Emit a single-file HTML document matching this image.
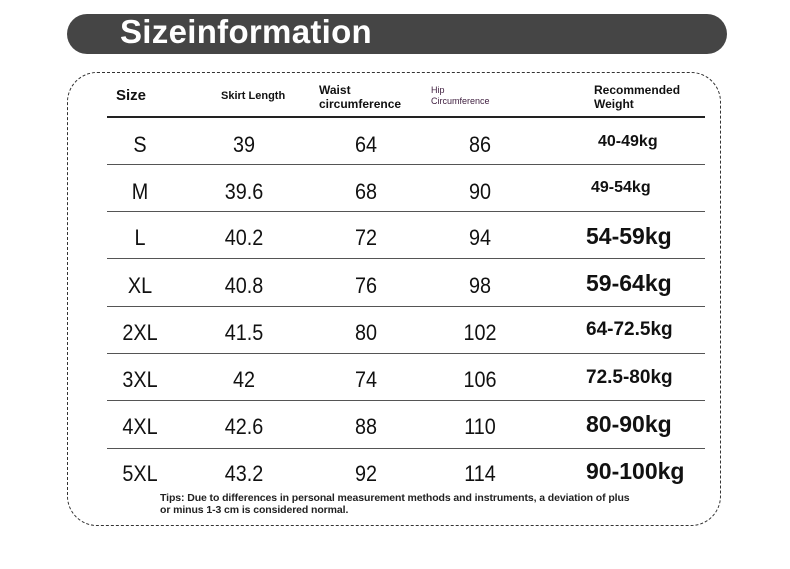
<!DOCTYPE html>
<html><head><meta charset="utf-8"><style>
body{margin:0;width:790px;height:569px;background:#fff;position:relative;overflow:hidden;font-family:"Liberation Sans",sans-serif;color:#111}
.a{position:absolute;white-space:nowrap}
.banner{left:67px;top:14px;width:660px;height:40px;border-radius:20px;background:#454545}
.title{left:120px;top:13px;font-size:33px;font-weight:bold;color:#fff;letter-spacing:0.3px}
.box{left:67px;top:72px;width:652px;height:452px;border:1.5px dashed #333;border-radius:30px}
.line{left:107px;width:598px;height:1px;background:#555}
.h{font-size:12px;font-weight:bold;line-height:14px}
.c{font-size:22px;transform:translateX(-50%) scaleX(0.9);}
.w{font-weight:bold;font-size:23px}
</style></head><body>
<div class="a banner"></div>
<div class="a title">Sizeinformation</div>
<div class="a box"></div>
<div class="a h" style="left:116px;top:89px;font-size:15px">Size</div>
<div class="a h" style="left:221px;top:89px;font-size:11px">Skirt Length</div>
<div class="a h" style="left:319px;top:83px">Waist<br>circumference</div>
<div class="a h" style="left:431px;top:85px;font-size:9px;line-height:11px;font-weight:normal;color:#402040">Hip<br>Circumference</div>
<div class="a h" style="left:594px;top:83px">Recommended<br>Weight</div>
<div class="a line" style="top:116px;height:2px;background:#222"></div>
<div class="a line" style="top:164px"></div>
<div class="a line" style="top:211px"></div>
<div class="a line" style="top:258px"></div>
<div class="a line" style="top:306px"></div>
<div class="a line" style="top:353px"></div>
<div class="a line" style="top:400px"></div>
<div class="a line" style="top:448px"></div>

<div class="a c" style="left:140px;top:132px">S</div><div class="a c" style="left:244px;top:132px">39</div><div class="a c" style="left:366px;top:132px">64</div><div class="a c" style="left:480px;top:132px">86</div><div class="a w" style="left:598px;top:133px;font-size:16px">40-49kg</div>
<div class="a c" style="left:140px;top:179px">M</div><div class="a c" style="left:244px;top:179px">39.6</div><div class="a c" style="left:366px;top:179px">68</div><div class="a c" style="left:480px;top:179px">90</div><div class="a w" style="left:591px;top:179px;font-size:16px">49-54kg</div>
<div class="a c" style="left:140px;top:225px">L</div><div class="a c" style="left:244px;top:225px">40.2</div><div class="a c" style="left:366px;top:225px">72</div><div class="a c" style="left:480px;top:225px">94</div><div class="a w" style="left:586px;top:223px">54-59kg</div>
<div class="a c" style="left:140px;top:273px">XL</div><div class="a c" style="left:244px;top:273px">40.8</div><div class="a c" style="left:366px;top:273px">76</div><div class="a c" style="left:480px;top:273px">98</div><div class="a w" style="left:586px;top:270px">59-64kg</div>
<div class="a c" style="left:140px;top:320px">2XL</div><div class="a c" style="left:244px;top:320px">41.5</div><div class="a c" style="left:366px;top:320px">80</div><div class="a c" style="left:480px;top:320px">102</div><div class="a w" style="left:586px;top:319px;font-size:19px">64-72.5kg</div>
<div class="a c" style="left:140px;top:367px">3XL</div><div class="a c" style="left:244px;top:367px">42</div><div class="a c" style="left:366px;top:367px">74</div><div class="a c" style="left:480px;top:367px">106</div><div class="a w" style="left:586px;top:367px;font-size:19px">72.5-80kg</div>
<div class="a c" style="left:140px;top:414px">4XL</div><div class="a c" style="left:244px;top:414px">42.6</div><div class="a c" style="left:366px;top:414px">88</div><div class="a c" style="left:480px;top:414px">110</div><div class="a w" style="left:586px;top:411px">80-90kg</div>
<div class="a c" style="left:140px;top:461px">5XL</div><div class="a c" style="left:244px;top:461px">43.2</div><div class="a c" style="left:366px;top:461px">92</div><div class="a c" style="left:480px;top:461px">114</div><div class="a w" style="left:586px;top:458px">90-100kg</div>
<div class="a" style="left:160px;top:492px;font-size:10.5px;font-weight:bold;line-height:12px;color:#222;letter-spacing:-0.1px">Tips: Due to differences in personal measurement methods and instruments, a deviation of plus<br>or minus 1-3 cm is considered normal.</div>
</body></html>
